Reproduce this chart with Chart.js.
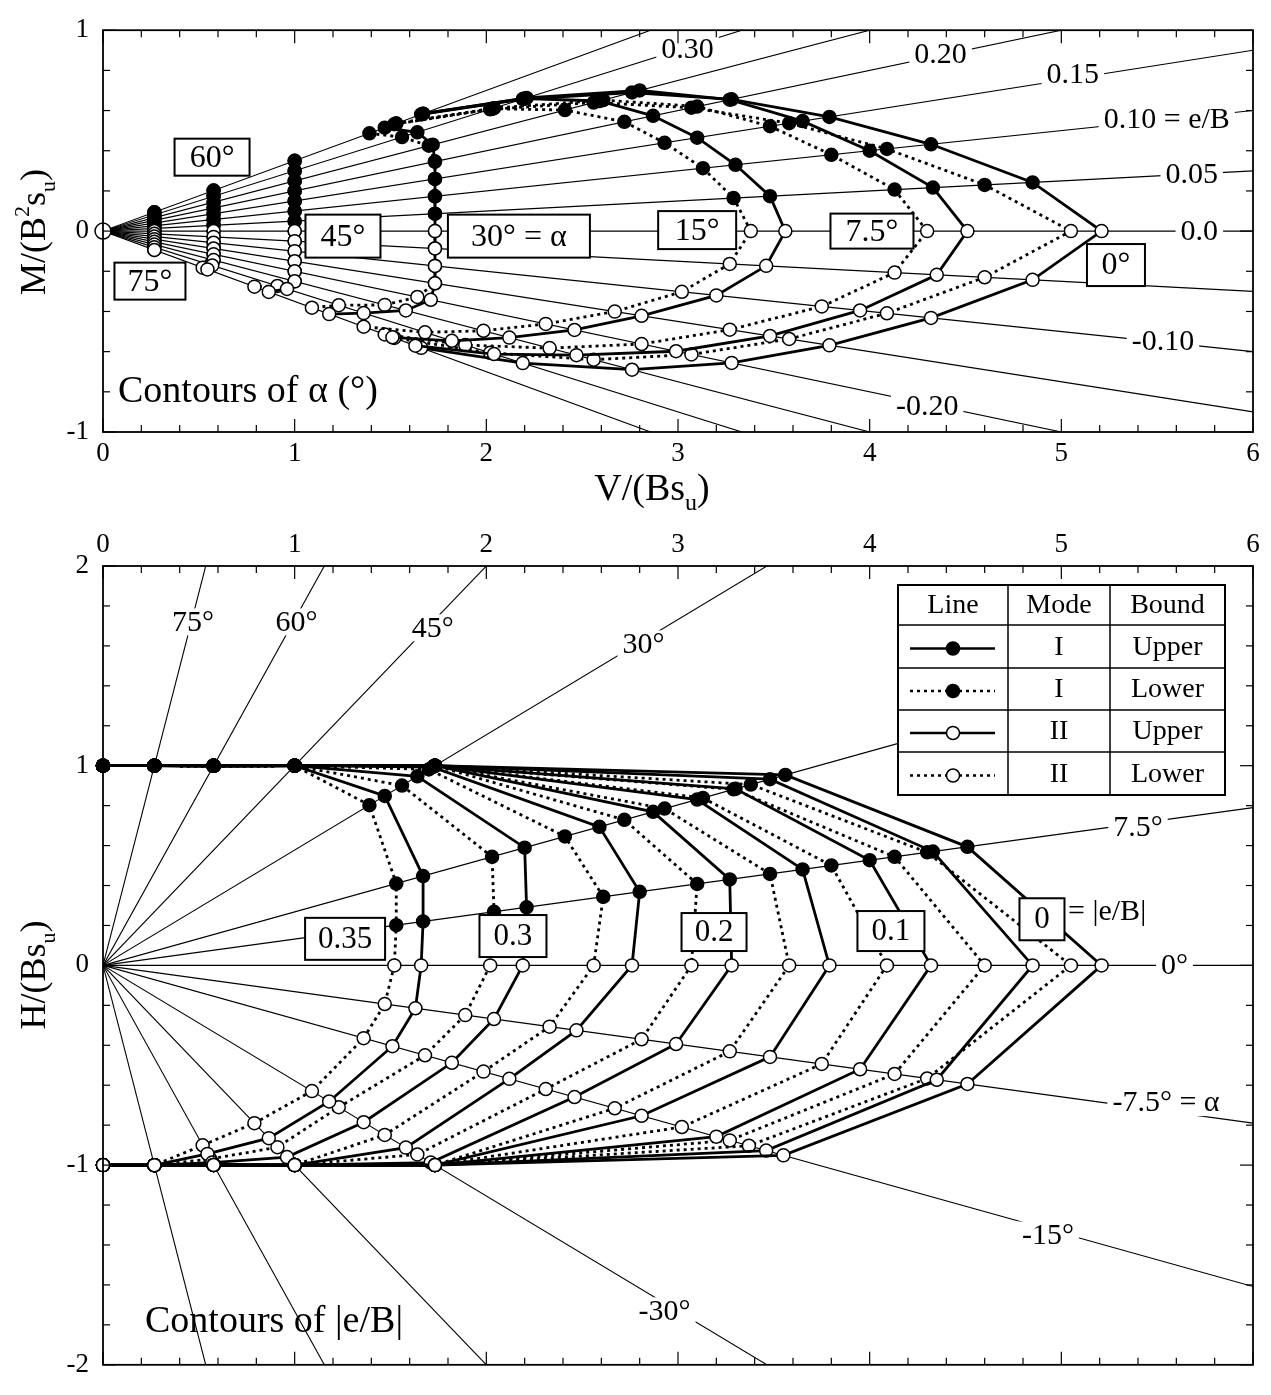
<!DOCTYPE html>
<html>
<head>
<meta charset="utf-8">
<script src="https://cdn.jsdelivr.net/npm/chart.js@4.4.1/dist/chart.umd.min.js"></script>
<style>
  html, body { margin: 0; padding: 0; background: #fff; }
  #page { position: relative; width: 1271px; height: 1395px; overflow: hidden; background: #fff; }
  canvas { position: absolute; left: 0; }
  #top-chart { top: 0; }
  #bottom-chart { top: 520px; }
</style>
</head>
<body>
<div id="page">
  <canvas id="top-chart" width="1271" height="525"></canvas>
  <canvas id="bottom-chart" width="1271" height="875"></canvas>
</div>
<script>
const SERIF = "'Liberation Serif', 'Times New Roman', serif";
Chart.defaults.font.family = SERIF;
Chart.defaults.font.size = 27;
Chart.defaults.color = '#000';
Chart.defaults.animation = false;

// angle alpha (deg) along each |e/B| contour, from +90 down to -90
const alphaDeg = [90, 75, 60, 45, 30, 15, 7.5, 0, -7.5, -15, -30, -45, -60, -75, -90];
// |e/B| of the contours
const eRatio = [0, 0.05, 0.10, 0.15, 0.20, 0.25, 0.30, 0.35];

// V/(Bs_u), one value per alpha above (upper bound = solid, lower = dotted)
const vUpper_00 = [0, 0.268, 0.577, 1.0, 1.732, 3.56, 4.51, 5.21, 4.51, 3.55, 1.732, 1.0, 0.577, 0.268, 0];
const vLower_00 = [0, 0.268, 0.577, 1.0, 1.732, 3.38, 4.30, 5.05, 4.30, 3.37, 1.732, 1.0, 0.577, 0.268, 0];
const vUpper_05 = [0, 0.268, 0.577, 1.0, 1.732, 3.48, 4.33, 4.85, 4.35, 3.46, 1.732, 1.0, 0.577, 0.268, 0];
const vLower_05 = [0, 0.268, 0.577, 1.0, 1.732, 3.29, 4.13, 4.60, 4.13, 3.27, 1.732, 1.0, 0.577, 0.268, 0];
const vUpper_10 = [0, 0.268, 0.577, 1.0, 1.732, 3.30, 4.00, 4.32, 3.95, 3.20, 1.732, 1.0, 0.577, 0.268, 0];
const vLower_10 = [0, 0.268, 0.577, 1.0, 1.732, 3.13, 3.80, 4.09, 3.75, 3.02, 1.732, 1.0, 0.577, 0.268, 0];
const vUpper_15 = [0, 0.268, 0.577, 1.0, 1.732, 3.10, 3.65, 3.79, 3.48, 2.81, 1.732, 1.0, 0.577, 0.268, 0];
const vLower_15 = [0, 0.268, 0.577, 1.0, 1.732, 2.93, 3.48, 3.58, 3.27, 2.67, 1.732, 1.0, 0.577, 0.268, 0];
const vUpper_20 = [0, 0.268, 0.577, 1.0, 1.732, 2.87, 3.27, 3.28, 2.99, 2.46, 1.71, 1.0, 0.577, 0.268, 0];
const vLower_20 = [0, 0.268, 0.577, 1.0, 1.732, 2.72, 3.10, 3.07, 2.81, 2.31, 1.64, 1.0, 0.577, 0.268, 0];
const vUpper_25 = [0, 0.268, 0.577, 1.0, 1.72, 2.59, 2.80, 2.76, 2.47, 2.12, 1.58, 1.0, 0.577, 0.268, 0];
const vLower_25 = [0, 0.268, 0.577, 1.0, 1.70, 2.41, 2.61, 2.56, 2.33, 1.985, 1.47, 1.0, 0.577, 0.268, 0];
const vUpper_30 = [0, 0.268, 0.577, 1.0, 1.64, 2.20, 2.21, 2.19, 2.04, 1.82, 1.36, 0.96, 0.57, 0.268, 0];
const vLower_30 = [0, 0.268, 0.577, 1.0, 1.56, 2.03, 2.04, 2.02, 1.89, 1.68, 1.23, 0.91, 0.56, 0.268, 0];
const vUpper_35 = [0, 0.268, 0.577, 1.0, 1.47, 1.67, 1.67, 1.66, 1.63, 1.51, 1.18, 0.865, 0.545, 0.268, 0];
const vLower_35 = [0, 0.268, 0.577, 1.0, 1.39, 1.53, 1.53, 1.52, 1.47, 1.36, 1.09, 0.79, 0.52, 0.268, 0];

const vUpper = [vUpper_00, vUpper_05, vUpper_10, vUpper_15, vUpper_20, vUpper_25, vUpper_30, vUpper_35];
const vLower = [vLower_00, vLower_05, vLower_10, vLower_15, vLower_20, vLower_25, vLower_30, vLower_35];

// alpha contours shown in the upper chart
const alphaContours = [75, 60, 45, 30, 15, 7.5, 0];
// radial guide lines: e/B (upper chart) and alpha (lower chart)
const eLines = [0.35, 0.30, 0.25, 0.20, 0.15, 0.10, 0.05, 0, -0.05, -0.10, -0.15, -0.20, -0.25, -0.30, -0.35];
const alphaLines = [75, 60, 45, 30, 15, 7.5, 0, -7.5, -15, -30, -45, -60, -75];

const X_MIN = 0, X_MAX = 6;

const rad = d => d * Math.PI / 180;

// H/(Bs_u) of a point sitting on the alpha ray
function hOnRay(alpha, v) {
  if (alpha === 90) return 1;
  if (alpha === -90) return -1;
  return v * Math.tan(rad(alpha));
}

// upper chart: contour of alpha, running from e/B = +0.35 down to -0.35
function alphaContourPoints(alpha, table) {
  const iPos = alphaDeg.indexOf(alpha);
  const iNeg = alphaDeg.indexOf(-alpha);
  const pts = [];
  for (let k = eRatio.length - 1; k >= 0; k--) {
    const v = table[k][iPos];
    pts.push({ x: v, y: eRatio[k] * v, filled: k > 0 });
  }
  for (let k = 1; k < eRatio.length; k++) {
    const v = table[k][iNeg];
    pts.push({ x: v, y: -eRatio[k] * v, filled: false });
  }
  return pts;
}

// lower chart: contour of |e/B|, running from alpha = +90 down to -90
function eContourPoints(table) {
  return alphaDeg.map((a, i) => ({ x: table[i], y: hOnRay(a, table[i]), filled: a > 0 }));
}

function contourDataset(points, dashed) {
  return {
    data: points,
    showLine: true,
    borderColor: '#000',
    borderWidth: 2.8,
    borderDash: dashed ? [3, 4] : [],
    pointRadius: 6.5,
    pointBorderWidth: 1.5,
    pointBorderColor: '#000',
    pointBackgroundColor: points.map(p => p.filled ? '#000' : '#fff'),
    clip: false,
    order: dashed ? 2 : 1
  };
}

function rayDataset(slope) {
  return {
    data: [{ x: X_MIN, y: 0 }, { x: X_MAX, y: X_MAX * slope }],
    showLine: true,
    borderColor: '#000',
    borderWidth: 1.1,
    pointRadius: 0,
    clip: 0,
    order: 10
  };
}

// ---------- drawing helpers ----------
function drawRich(ctx, parts, x, y, size, rotate) {
  ctx.save();
  ctx.translate(x, y);
  if (rotate) ctx.rotate(-Math.PI / 2);
  const fontFor = p => (p[1] ? Math.round(size * 0.62) : size) + 'px ' + SERIF;
  let total = 0;
  parts.forEach(p => { ctx.font = fontFor(p); total += ctx.measureText(p[0]).width; });
  let cx = -total / 2;
  ctx.textBaseline = 'middle';
  ctx.textAlign = 'left';
  ctx.fillStyle = '#000';
  parts.forEach(p => {
    ctx.font = fontFor(p);
    const dy = p[1] === 'sup' ? -size * 0.36 : p[1] === 'sub' ? size * 0.36 : 0;
    ctx.fillText(p[0], cx, dy);
    cx += ctx.measureText(p[0]).width;
  });
  ctx.restore();
}

function drawPlainLabel(chart, lab, size) {
  const { ctx, scales: { x, y } } = chart;
  const px = x.getPixelForValue(lab.x), py = y.getPixelForValue(lab.y);
  ctx.save();
  ctx.font = size + 'px ' + SERIF;
  const w = ctx.measureText(lab.text).width;
  if (lab.bg !== false) {
    ctx.fillStyle = '#fff';
    ctx.fillRect(px - w / 2 - 5, py - size * 0.45, w + 10, size * 0.9);
  }
  ctx.fillStyle = '#000';
  ctx.textBaseline = 'middle';
  ctx.textAlign = lab.align || 'center';
  ctx.fillText(lab.text, px, py + 1);
  ctx.restore();
}

function drawBoxLabel(chart, lab, size) {
  const { ctx, scales: { x, y } } = chart;
  const px = x.getPixelForValue(lab.x), py = y.getPixelForValue(lab.y);
  ctx.save();
  ctx.fillStyle = '#fff';
  ctx.strokeStyle = '#000';
  ctx.lineWidth = 2;
  ctx.fillRect(px - lab.w / 2, py - lab.h / 2, lab.w, lab.h);
  ctx.strokeRect(px - lab.w / 2, py - lab.h / 2, lab.w, lab.h);
  ctx.font = size + 'px ' + SERIF;
  ctx.fillStyle = '#000';
  ctx.textBaseline = 'middle';
  ctx.textAlign = 'center';
  ctx.fillText(lab.text, px, py + 1);
  ctx.restore();
}

// frame with inward ticks on all four sides
const frameTicks = {
  id: 'frameTicks',
  afterDatasetsDraw(chart) {
    const { ctx, chartArea: a, scales: { x, y } } = chart;
    ctx.save();
    ctx.strokeStyle = '#000';
    ctx.lineWidth = 1.2;
    const seg = (x1, y1, x2, y2) => { ctx.beginPath(); ctx.moveTo(x1, y1); ctx.lineTo(x2, y2); ctx.stroke(); };
    const isMajor = v => Math.abs(v - Math.round(v)) < 1e-6;
    const nx = Math.round((x.max - x.min) / 0.2);
    for (let i = 0; i <= nx; i++) {
      const v = x.min + i * 0.2;
      const p = x.getPixelForValue(v);
      const len = isMajor(v) ? 13 : 7;
      seg(p, a.top, p, a.top + len);
      seg(p, a.bottom, p, a.bottom - len);
    }
    const ny = Math.round((y.max - y.min) / 0.2);
    for (let i = 0; i <= ny; i++) {
      const v = y.min + i * 0.2;
      const p = y.getPixelForValue(v);
      const len = isMajor(v) ? 13 : 7;
      seg(a.left, p, a.left + len, p);
      seg(a.right, p, a.right - len, p);
    }
    ctx.lineWidth = 1.8;
    ctx.strokeRect(a.left, a.top, a.right - a.left, a.bottom - a.top);
    ctx.restore();
  }
};

// ---------- upper chart: contours of alpha in (V, M) ----------
const topPlainLabels = [
  { text: '0.30', x: 3.05, y: 0.905 },
  { text: '0.20', x: 4.37, y: 0.88 },
  { text: '0.15', x: 5.06, y: 0.78 },
  { text: '0.10 = e/B', x: 5.55, y: 0.557 },
  { text: '0.05', x: 5.68, y: 0.284 },
  { text: '0.0', x: 5.72, y: 0 },
  { text: '-0.10', x: 5.53, y: -0.55 },
  { text: '-0.20', x: 4.30, y: -0.87 }
];
const topBoxLabels = [
  { text: '60°', x: 0.569, y: 0.368, w: 75, h: 37 },
  { text: '75°', x: 0.245, y: -0.249, w: 71, h: 37 },
  { text: '45°', x: 1.252, y: -0.025, w: 75, h: 43 },
  { text: '30° = α', x: 2.17, y: -0.025, w: 142, h: 43 },
  { text: '15°', x: 3.10, y: 0.005, w: 78, h: 38 },
  { text: '7.5°', x: 4.012, y: 0, w: 83, h: 35 },
  { text: '0°', x: 5.285, y: -0.169, w: 58, h: 42 }
];

const topDecor = {
  id: 'topDecor',
  afterDatasetsDraw(chart) {
    topPlainLabels.forEach(l => drawPlainLabel(chart, l, 30));
    topBoxLabels.forEach(l => drawBoxLabel(chart, l, 32));
    const { ctx, chartArea: a } = chart;
    ctx.save();
    ctx.font = '38px ' + SERIF;
    ctx.fillStyle = '#000';
    ctx.textBaseline = 'middle';
    ctx.textAlign = 'left';
    ctx.fillText('Contours of α (°)', a.left + 15, a.bottom - 40);
    ctx.restore();
    drawRich(ctx, [['M/(B'], ['2', 'sup'], ['s'], ['u', 'sub'], [')']], 36, 232, 36, true);
    drawRich(ctx, [['V/(Bs'], ['u', 'sub'], [')']], 652, 490, 38, false);
  }
};

const topDatasets = [];
alphaContours.forEach(a => {
  topDatasets.push(contourDataset(alphaContourPoints(a, vUpper), false));
  topDatasets.push(contourDataset(alphaContourPoints(a, vLower), true));
});
// the common origin of all alpha contours
topDatasets.push({
  data: [{ x: vUpper_00[0], y: 0 }],
  pointRadius: 8,
  pointBorderWidth: 1.5,
  pointBorderColor: '#000',
  pointBackgroundColor: '#fff',
  clip: false,
  order: 0
});
eLines.forEach(k => topDatasets.push(rayDataset(k)));

new Chart(document.getElementById('top-chart'), {
  type: 'scatter',
  data: { datasets: topDatasets },
  options: {
    responsive: false,
    layout: { padding: { top: 30, right: 18, left: 0, bottom: 0 } },
    plugins: { legend: { display: false }, tooltip: { enabled: false } },
    events: [],
    scales: {
      x: {
        type: 'linear', min: X_MIN, max: X_MAX,
        grid: { display: false, drawTicks: false },
        border: { display: false },
        ticks: { stepSize: 1, padding: 6, font: { size: 27 } },
        afterFit: s => { s.height = 93; }
      },
      y: {
        type: 'linear', min: -1, max: 1,
        grid: { display: false, drawTicks: false },
        border: { display: false },
        ticks: { stepSize: 1, padding: 14, font: { size: 27 } },
        afterFit: s => { s.width = 103; }
      }
    }
  },
  plugins: [topDecor, frameTicks]
});

// ---------- lower chart: contours of |e/B| in (V, H) ----------
const bottomPlainLabels = [
  { text: '75°', x: 0.47, y: 1.72 },
  { text: '60°', x: 1.01, y: 1.72 },
  { text: '45°', x: 1.72, y: 1.69 },
  { text: '30°', x: 2.82, y: 1.61 },
  { text: '7.5°', x: 5.40, y: 0.69 },
  { text: '0°', x: 5.59, y: 0 },
  { text: '-7.5° = α', x: 5.546, y: -0.687 },
  { text: '-15°', x: 4.93, y: -1.35 },
  { text: '-30°', x: 2.93, y: -1.73 }
];
const bottomBoxLabels = [
  { text: '0.35', x: 1.263, y: 0.133, w: 80, h: 42 },
  { text: '0.3', x: 2.139, y: 0.147, w: 67, h: 42 },
  { text: '0.2', x: 3.188, y: 0.167, w: 65, h: 38 },
  { text: '0.1', x: 4.111, y: 0.172, w: 67, h: 40 },
  { text: '0', x: 4.899, y: 0.231, w: 45, h: 42 }
];
const legendRows = [
  { dashed: false, filled: true, mode: 'I', bound: 'Upper' },
  { dashed: true, filled: true, mode: 'I', bound: 'Lower' },
  { dashed: false, filled: false, mode: 'II', bound: 'Upper' },
  { dashed: true, filled: false, mode: 'II', bound: 'Lower' }
];

function drawLegendTable(chart) {
  const { ctx, chartArea: a } = chart;
  const left = a.left + 795, top = a.top + 19;
  const colX = [0, 110, 212, 327];
  const rowY = [0, 40, 83, 125, 167, 210];
  ctx.save();
  ctx.fillStyle = '#fff';
  // blank band from the table to the right frame, as in the original
  ctx.fillRect(left, top, a.right - left, rowY[5]);
  ctx.strokeStyle = '#000';
  ctx.lineWidth = 1.5;
  rowY.forEach(r => { ctx.beginPath(); ctx.moveTo(left, top + r); ctx.lineTo(left + colX[3], top + r); ctx.stroke(); });
  colX.forEach(c => { ctx.beginPath(); ctx.moveTo(left + c, top); ctx.lineTo(left + c, top + rowY[5]); ctx.stroke(); });
  ctx.lineWidth = 2;
  ctx.strokeRect(left, top, colX[3], rowY[5]);

  ctx.font = '28px ' + SERIF;
  ctx.fillStyle = '#000';
  ctx.textBaseline = 'middle';
  ctx.textAlign = 'center';
  const midX = i => left + (colX[i] + colX[i + 1]) / 2;
  ctx.fillText('Line', midX(0), top + 21);
  ctx.fillText('Mode', midX(1), top + 21);
  ctx.fillText('Bound', midX(2), top + 21);
  legendRows.forEach((row, i) => {
    const cy = top + (rowY[i + 1] + rowY[i + 2]) / 2;
    ctx.save();
    ctx.lineWidth = 2.4;
    ctx.setLineDash(row.dashed ? [3, 4] : []);
    ctx.beginPath();
    ctx.moveTo(left + 12, cy + 2);
    ctx.lineTo(left + 97, cy + 2);
    ctx.stroke();
    ctx.setLineDash([]);
    ctx.beginPath();
    ctx.arc(midX(0), cy + 2, 6.5, 0, Math.PI * 2);
    ctx.fillStyle = row.filled ? '#000' : '#fff';
    ctx.fill();
    ctx.lineWidth = 1.5;
    ctx.stroke();
    ctx.restore();
    ctx.fillStyle = '#000';
    ctx.fillText(row.mode, midX(1), cy + 1);
    ctx.fillText(row.bound, midX(2), cy + 1);
  });
  ctx.restore();
}

const bottomDecor = {
  id: 'bottomDecor',
  afterDatasetsDraw(chart) {
    bottomPlainLabels.forEach(l => drawPlainLabel(chart, l, 30));
    bottomBoxLabels.forEach(l => drawBoxLabel(chart, l, 31));
    drawPlainLabel(chart, { text: '= |e/B|', x: 5.035, y: 0.27, align: 'left', bg: false }, 30);
    drawLegendTable(chart);
    const { ctx, chartArea: a } = chart;
    ctx.save();
    ctx.font = '38px ' + SERIF;
    ctx.fillStyle = '#000';
    ctx.textBaseline = 'middle';
    ctx.textAlign = 'left';
    ctx.fillText('Contours of |e/B|', a.left + 42, a.top + 756);
    ctx.restore();
    drawRich(ctx, [['H/(Bs'], ['u', 'sub'], [')']], 36, 455, 36, true);
  }
};

const bottomDatasets = [];
eRatio.forEach((e, k) => {
  bottomDatasets.push(contourDataset(eContourPoints(vUpper[k]), false));
  bottomDatasets.push(contourDataset(eContourPoints(vLower[k]), true));
});
alphaLines.forEach(a => bottomDatasets.push(rayDataset(Math.tan(rad(a)))));

new Chart(document.getElementById('bottom-chart'), {
  type: 'scatter',
  data: { datasets: bottomDatasets },
  options: {
    responsive: false,
    layout: { padding: { top: 0, right: 18, left: 0, bottom: 13 } },
    plugins: { legend: { display: false }, tooltip: { enabled: false } },
    events: [],
    scales: {
      x: {
        type: 'linear', position: 'top', min: X_MIN, max: X_MAX,
        grid: { display: false, drawTicks: false },
        border: { display: false },
        ticks: { stepSize: 1, padding: 5, font: { size: 27 } },
        afterFit: s => { s.height = 46; }
      },
      y: {
        type: 'linear', min: -2, max: 2,
        grid: { display: false, drawTicks: false },
        border: { display: false },
        ticks: { stepSize: 1, padding: 14, font: { size: 27 } },
        afterFit: s => { s.width = 103; }
      }
    }
  },
  plugins: [bottomDecor, frameTicks]
});
</script>
</body>
</html>
